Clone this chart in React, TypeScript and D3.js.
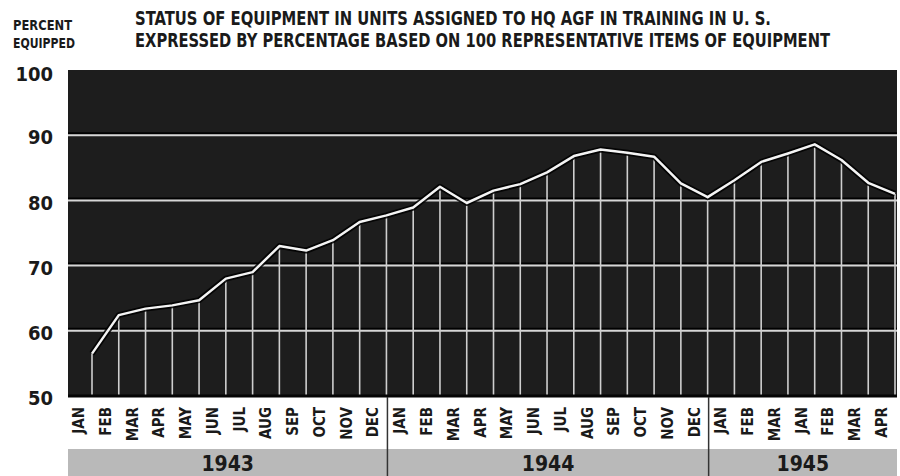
import React, { useEffect, useRef } from 'react'
import * as d3 from 'd3'

// months as printed under the axis (1945 repeats JAN-MAR in the original)
const months1943 = ['JAN', 'FEB', 'MAR', 'APR', 'MAY', 'JUN', 'JUL', 'AUG', 'SEP', 'OCT', 'NOV', 'DEC']
const months1944 = ['JAN', 'FEB', 'MAR', 'APR', 'MAY', 'JUN', 'JUL', 'AUG', 'SEP', 'OCT', 'NOV', 'DEC']
const months1945 = ['JAN', 'FEB', 'MAR', 'JAN', 'FEB', 'MAR', 'APR']
const years = ['1943', '1944', '1945']

// percent equipped, one value per month
const pct1943 = [56.5, 62.4, 63.4, 63.9, 64.7, 68.0, 69.0, 73.0, 72.3, 73.9, 76.7, 77.7]
const pct1944 = [78.9, 82.1, 79.6, 81.5, 82.5, 84.3, 86.8, 87.8, 87.3, 86.7, 82.6, 80.5]
const pct1945 = [83.1, 85.9, 87.2, 88.6, 86.2, 82.7, 81.0]

const yTicks = [50, 60, 70, 80, 90, 100]
const gridTicks = [60, 70, 80, 90]

const FONT = '"Liberation Sans Narrow", "DejaVu Sans Condensed", "Roboto Condensed", "Liberation Sans", sans-serif'

function App() {
    const ref = useRef(null)

    useEffect(() => {
        const svg = d3.select(ref.current)
        svg.selectAll('*').remove()

        const left = 68, right = 897, top = 70, bottom = 396
        const months = [...months1943, ...months1944, ...months1945]
        const values = [...pct1943, ...pct1944, ...pct1945]
        const yearMonths = [months1943, months1944, months1945]

        const x = d3.scaleLinear().domain([0, months.length - 1]).range([92, right - 2])
        const y = d3.scaleLinear().domain([50, 100]).range([bottom, top])
        const step = x(1) - x(0)

        // titles
        const title = svg.append('g').attr('font-family', FONT).attr('font-weight', 'bold').attr('fill', '#1a1a1a')
        title.append('text').attr('x', 13).attr('y', 30).attr('font-size', 14)
            .attr('textLength', 59).attr('lengthAdjust', 'spacingAndGlyphs').text('PERCENT')
        title.append('text').attr('x', 13).attr('y', 48).attr('font-size', 14)
            .attr('textLength', 62).attr('lengthAdjust', 'spacingAndGlyphs').text('EQUIPPED')
        title.append('text').attr('transform', 'translate(135,24.5) scale(1,1.12)').attr('font-size', 17)
            .attr('textLength', 636).attr('lengthAdjust', 'spacingAndGlyphs')
            .text('STATUS OF EQUIPMENT IN UNITS ASSIGNED TO HQ AGF IN TRAINING IN U. S.')
        title.append('text').attr('transform', 'translate(135,47) scale(1,1.12)').attr('font-size', 17)
            .attr('textLength', 695).attr('lengthAdjust', 'spacingAndGlyphs')
            .text('EXPRESSED BY PERCENTAGE BASED ON 100 REPRESENTATIVE ITEMS OF EQUIPMENT')

        // plot background
        svg.append('rect').attr('x', left).attr('y', top).attr('width', right - left).attr('height', bottom - top)
            .attr('fill', '#1d1d1d')

        // horizontal grid
        const grid = svg.append('g')
        gridTicks.forEach(t => {
            grid.append('line').attr('x1', left).attr('x2', right).attr('y1', y(t) - 2).attr('y2', y(t) - 2)
                .attr('stroke', '#000').attr('stroke-width', 2)
            grid.append('line').attr('x1', left).attr('x2', right).attr('y1', y(t)).attr('y2', y(t))
                .attr('stroke', '#d6d6d6').attr('stroke-width', 2)
        })

        // vertical drop lines up to the curve
        svg.append('g').selectAll('line').data(values).enter().append('line')
            .attr('x1', (d, i) => x(i)).attr('x2', (d, i) => x(i))
            .attr('y1', bottom).attr('y2', d => y(d))
            .attr('stroke', '#cfcfcf').attr('stroke-width', 1.6)

        // the curve with a dark halo
        const line = d3.line().x((d, i) => x(i)).y(d => y(d))
        svg.append('path').datum(values).attr('d', line).attr('fill', 'none')
            .attr('stroke', '#000').attr('stroke-width', 6).attr('stroke-linejoin', 'round').attr('opacity', 0.85)
        svg.append('path').datum(values).attr('d', line).attr('fill', 'none')
            .attr('stroke', '#f4f4f4').attr('stroke-width', 2.5).attr('stroke-linejoin', 'round')

        // bottom border
        svg.append('line').attr('x1', left).attr('x2', right).attr('y1', bottom).attr('y2', bottom)
            .attr('stroke', '#050505').attr('stroke-width', 3)

        // y tick labels
        svg.append('g').selectAll('text').data(yTicks).enter().append('text')
            .attr('x', 53).attr('y', d => y(d) + (d === 100 ? 4 : 2)).attr('dy', '0.36em')
            .attr('text-anchor', 'end').attr('font-family', FONT).attr('font-weight', 'bold')
            .attr('font-size', 20).attr('fill', '#1a1a1a')
            .text(d => d)

        // month labels, centred between drop lines
        svg.append('g').selectAll('text').data(months).enter().append('text')
            .attr('transform', (d, i) => `translate(${x(i) - step / 2},407) rotate(-90)`)
            .attr('text-anchor', 'end').attr('dy', '0.36em')
            .attr('font-family', FONT).attr('font-weight', 'bold').attr('font-size', 15)
            .attr('fill', '#1a1a1a')
            .text(d => d)

        // year band
        const bandTop = 449
        svg.append('rect').attr('x', left).attr('y', bandTop).attr('width', right - left).attr('height', 476 - bandTop)
            .attr('fill', '#b9b9b9')

        let start = 0
        const edges = [left]
        yearMonths.forEach((m, k) => {
            const end = start + m.length - 1
            const x1 = k === yearMonths.length - 1 ? right : x(end) + 1
            edges.push(x1)
            start = end + 1
        })
        years.forEach((yr, k) => {
            svg.append('text').attr('x', (edges[k] + edges[k + 1]) / 2).attr('y', 471)
                .attr('text-anchor', 'middle').attr('font-family', FONT).attr('font-weight', 'bold')
                .attr('font-size', 21).attr('fill', '#1a1a1a').text(yr)
        })

        // year dividers
        edges.slice(1, -1).forEach(ex => {
            svg.append('line').attr('x1', ex).attr('x2', ex).attr('y1', bottom + 1).attr('y2', 476)
                .attr('stroke', '#333').attr('stroke-width', 1.5)
        })
    }, [])

    return (
        <svg ref={ref} width={900} height={476}
            style={{ position: 'absolute', left: 0, top: 0, background: '#fff' }} />
    )
}

export default App
